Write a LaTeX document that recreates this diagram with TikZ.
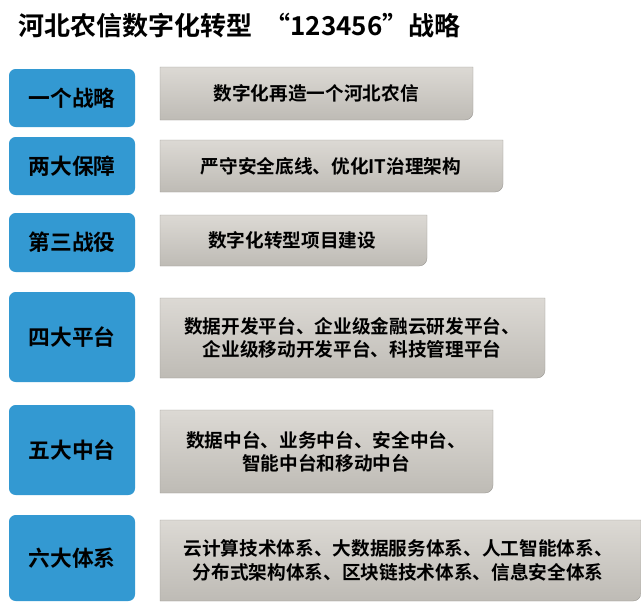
\documentclass[tikz,border=0pt]{standalone}
\usepackage{fontspec}
\setmainfont{Noto Sans CJK SC}[BoldFont={* Bold}]
\usetikzlibrary{positioning}
\definecolor{tagblue}{HTML}{3399D2}
\definecolor{boxtop}{HTML}{DCD9D4}
\definecolor{boxbot}{HTML}{BEBBB5}
\tikzset{
  tag/.style={fill=tagblue,rounded corners=5pt,font=\bfseries\fontsize{16.3}{19}\selectfont,inner sep=0pt},
  panel/.style={top color=boxtop,bottom color=boxbot,draw=boxbot!80!black,line width=0.3pt},
  paneltext/.style={font=\bfseries\fontsize{14}{17.5}\selectfont,align=center}
}
\begin{document}
\begin{tikzpicture}[x=0.75pt,y=-0.75pt]
  \useasboundingbox (0,0) rectangle (641,607);
  \node[anchor=west,font=\bfseries\fontsize{19.5}{23}\selectfont] (title) at (14,26) {河北农信数字化转型\ \ “123456”战略};

  % left tags and right panels
  \foreach \name/\txt/\ya/\yb/\gx/\gya/\gyb/\body/\tx in {
      one/一个战略/69/127/473/67/120/数字化再造一个河北农信/316,
      two/两大保障/137/195/503/140/192/严守安全底线、优化IT治理架构/331,
      three/第三战役/213/272/427/215/266/数字化转型项目建设/292,
      four/四大平台/292/382/545/298/378/{数据开发平台、企业级金融云研发平台、\\企业级移动开发平台、科技管理平台}/352,
      five/五大中台/405/495/493/410/493/{数据中台、业务中台、安全中台、\\智能中台和移动中台}/326,
      six/六大体系/515/601/641/520/601/{云计算技术体系、大数据服务体系、人工智能体系、\\分布式架构体系、区块链技术体系、信息安全体系}/398} {
    \node[tag,minimum width=126*0.75pt,minimum height=(\yb-\ya)*0.75pt] (\name) at (72,{(\ya+\yb)/2}) {\txt};
    \path[panel] (160,\gya) -- (\gx,\gya) -- (\gx,\gyb-8) to[out=-90,in=0] (\gx-8,\gyb) -- (160,\gyb) -- cycle;
    \node[paneltext] (\name-body) at (\tx,{(\gya+\gyb)/2}) {\body};
  }
\end{tikzpicture}
\end{document}
